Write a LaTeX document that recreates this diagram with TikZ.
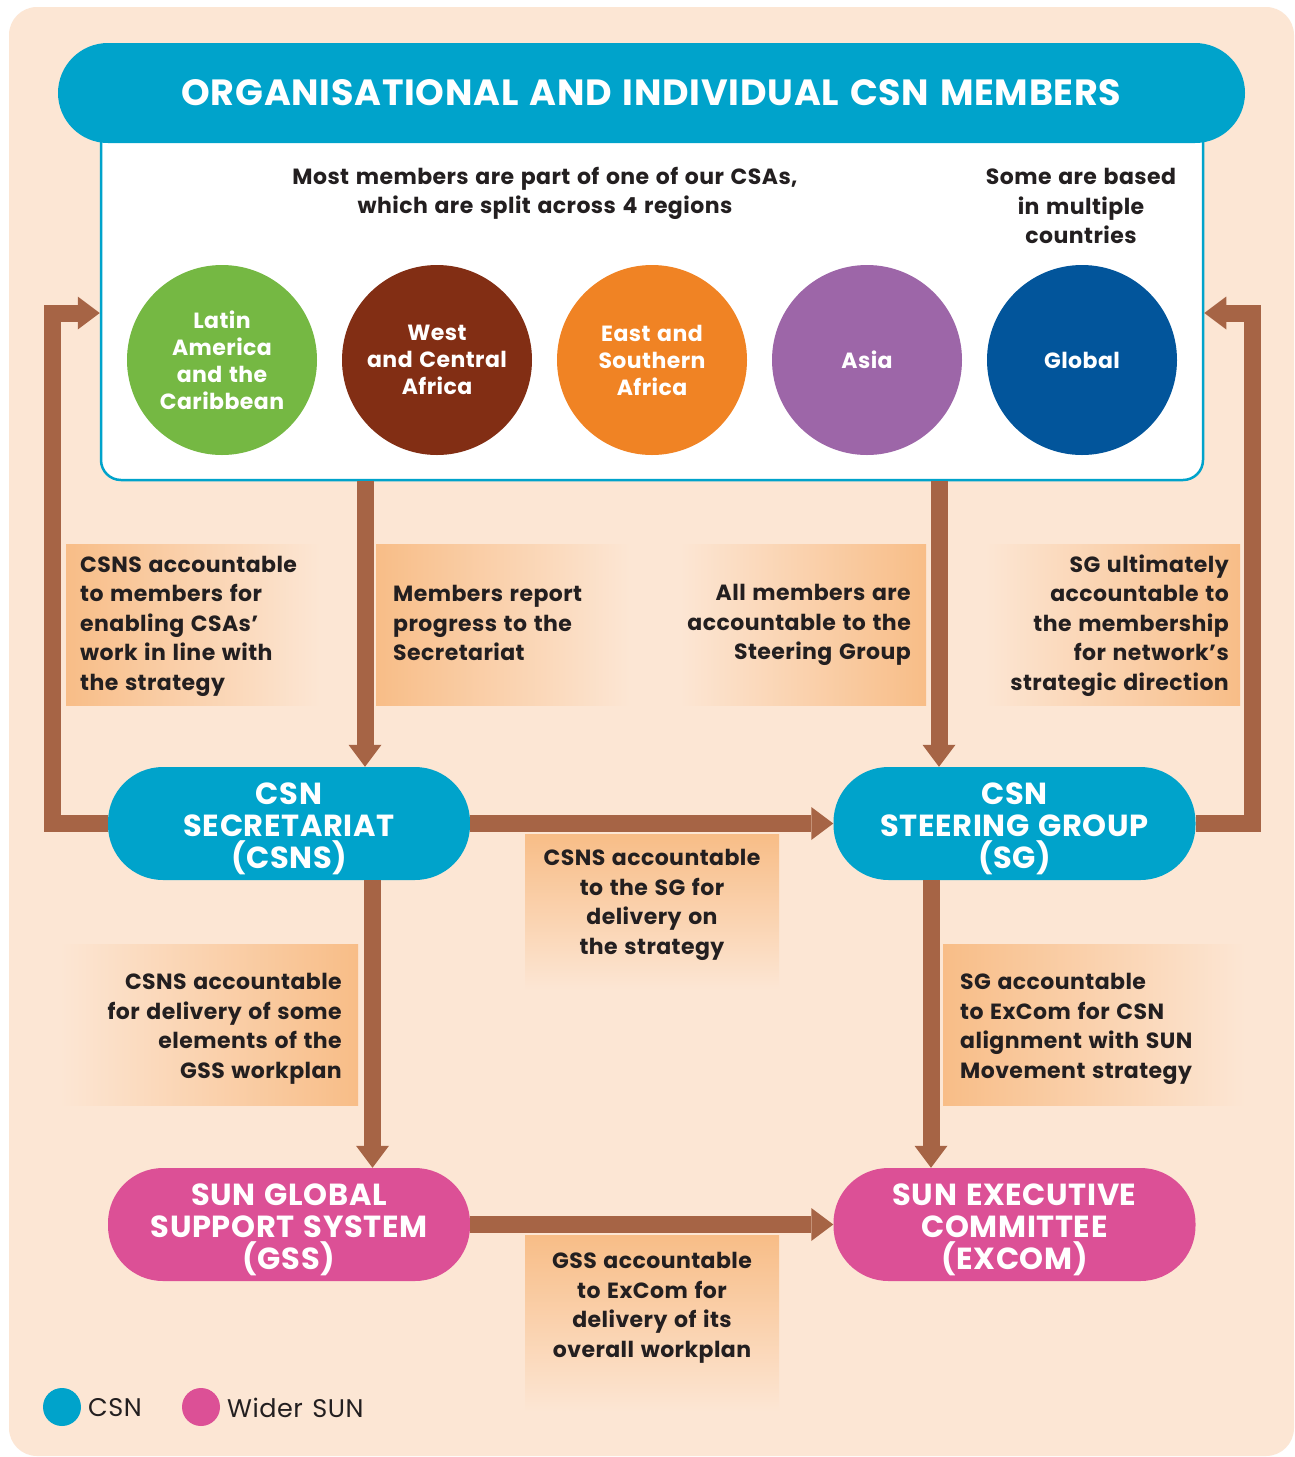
\documentclass[tikz,border=0pt]{standalone}
\usepackage{fontspec}
\setmainfont{Poppins}[LetterSpace=2,WordSpace=1.3]
\usetikzlibrary{arrows.meta}

\definecolor{bgc}{RGB}{252,230,212}
\definecolor{csn}{RGB}{0,163,203}
\definecolor{sun}{RGB}{220,80,150}
\definecolor{arrowc}{RGB}{166,100,69}
\definecolor{lorange}{RGB}{248,189,135}
\definecolor{ink}{RGB}{35,31,32}
\definecolor{regA}{RGB}{117,184,67}
\definecolor{regB}{RGB}{130,46,20}
\definecolor{regC}{RGB}{240,131,36}
\definecolor{regD}{RGB}{157,102,168}
\definecolor{regE}{RGB}{2,85,155}

\newcommand\titlefnt{\fontsize{36.5}{40}\selectfont\bfseries}
\newcommand\pillfnt{\fontsize{30.5}{32}\selectfont\bfseries}
\newcommand\circfnt{\fontsize{22}{27}\selectfont\bfseries}
\newcommand\lblfnt{\fontsize{22}{29.5}\selectfont\bfseries}
\newcommand\legfnt{\fontsize{25.5}{27}\selectfont}

\tikzset{
  conn/.style={draw=arrowc, line width=17pt, line join=miter,
    -{Triangle[width=33pt,length=22pt,line width=0pt]}},
  pill/.style={rectangle, rounded corners=55pt, minimum width=362pt,
    minimum height=113pt, inner sep=0pt},
  ptxt/.style={inner sep=0pt, text=white, font=\pillfnt, align=center},
  region/.style={circle, minimum size=190pt, inner sep=0pt, text=white,
    font=\circfnt, align=center},
  lblbox/.style={rectangle, inner sep=0pt},
  hfade/.style={left color=lorange, middle color=lorange!68!bgc, right color=bgc},
  hrise/.style={left color=bgc, middle color=lorange!68!bgc, right color=lorange},
  vfade/.style={top color=lorange, middle color=lorange!62!bgc, bottom color=bgc},
  ltxt/.style={inner sep=0pt, text=ink, font=\lblfnt},
}

\begin{document}
\begin{tikzpicture}[x=1pt,y=-1pt]
  % page and panel background
  \fill[white] (0,0) rectangle (1295,1457);
  \useasboundingbox (0,0) rectangle (1295,1457);
  \fill[bgc, rounded corners=28pt] (9,7) rectangle (1294,1456);

  % members panel with its title bar
  \node[draw=csn, line width=2.5pt, fill=white, rounded corners=20pt,
        minimum width=1102pt, minimum height=360pt] (box) at (652,300) {};
  \node[fill=csn, rounded corners=50pt, minimum width=1187pt, minimum height=100pt,
        text=white, font=\titlefnt] (title) at (651.5,93)
        {ORGANISATIONAL AND INDIVIDUAL CSN MEMBERS};

  \node[ltxt, align=center] (intro) at (545,193.5)
    {Most members are part of one of our CSAs,\\ which are split across 4 regions};
  \node[ltxt, align=center] (multi) at (1081,206)
    {Some are based\\ in multiple\\ countries};

  % regional circles
  \node[region, fill=regA] (lac) at (222,360) {Latin\\ America\\ and the\\ Caribbean};
  \node[region, fill=regB] (wca) at (437,360) {West\\ and Central\\ Africa};
  \node[region, fill=regC] (esa) at (652,360) {East and\\ Southern\\ Africa};
  \node[region, fill=regD] (asia) at (867,360) {Asia};
  \node[region, fill=regE] (glob) at (1082,360) {Global};

  % shaded label panels
  \node[lblbox, hfade, minimum width=254pt, minimum height=161pt] (b1) at (193,624.5) {};
  \node[lblbox, hfade, minimum width=254pt, minimum height=161pt] (b2) at (503,624.5) {};
  \node[lblbox, hrise, minimum width=246pt, minimum height=161pt] (b3) at (803,624.5) {};
  \node[lblbox, hrise, minimum width=255pt, minimum height=161pt] (b4) at (1112.5,624.5) {};
  \node[lblbox, vfade, minimum width=254pt, minimum height=156pt] (b5) at (652,912) {};
  \node[lblbox, hrise, minimum width=298pt, minimum height=161pt] (b6) at (209,1024.5) {};
  \node[lblbox, hfade, minimum width=302pt, minimum height=161pt] (b7) at (1094,1024.5) {};
  \node[lblbox, vfade, minimum width=254pt, minimum height=177pt] (b8) at (652,1323.5) {};

  % bodies
  \node[pill, fill=csn] (sec) at (289,823.5) {};
  \node[pill, fill=csn] (sg) at (1014.5,823.5) {};
  \node[pill, fill=sun] (gss) at (289,1224.5) {};
  \node[pill, fill=sun] (excom) at (1014.5,1224.5) {};
  \node[ptxt] (secT) at ([yshift=-5pt]sec.center) {CSN\\ SECRETARIAT\\ (CSNS)};
  \node[ptxt] (sgT) at ([yshift=-5pt]sg.center) {CSN\\ STEERING GROUP\\ (SG)};
  \node[ptxt] (gssT) at ([yshift=-5pt]gss.center) {SUN GLOBAL\\ SUPPORT SYSTEM\\ (GSS)};
  \node[ptxt] (excomT) at ([yshift=-5pt]excom.center) {SUN EXECUTIVE\\ COMMITTEE\\ (EXCOM)};

  % accountability connectors
  \draw[conn] (sec.west) -| (52.5,313) -- (box.west |- 0,313);
  \draw[conn] (sg.east) -| (1252,313) -- (box.east |- 0,313);
  \draw[conn] (box.south -| 365,0) -- (sec.north -| 365,0);
  \draw[conn] (box.south -| 939,0) -- (sg.north -| 939,0);
  \draw[conn] (sec.east) -- (sg.west);
  \draw[conn] (sec.south -| 372.5,0) -- (gss.north -| 372.5,0);
  \draw[conn] (sg.south -| 931,0) -- (excom.north -| 931,0);
  \draw[conn] (gss.east) -- (excom.west);

  % label texts
  \node[ltxt, anchor=west, align=left] (t1) at (80,626)
    {CSNS accountable\\ to members for\\ enabling CSAs’\\ work in line with\\ the strategy};
  \node[ltxt, anchor=west, align=left] (t2) at (393,623)
    {Members report\\ progress to the\\ Secretariat};
  \node[ltxt, anchor=east, align=right] (t3) at (911,625)
    {All members are\\ accountable to the\\ Steering Group};
  \node[ltxt, anchor=east, align=right] (t4) at (1229,625.5)
    {SG ultimately\\ accountable to\\ the membership\\ for network’s\\ strategic direction};
  \node[ltxt, align=center] (t5) at (652,905)
    {CSNS accountable\\ to the SG for\\ delivery on\\ the strategy};
  \node[ltxt, anchor=east, align=right] (t6) at (342,1029)
    {CSNS accountable\\ for delivery of some\\ elements of the\\ GSS workplan};
  \node[ltxt, anchor=west, align=left] (t7) at (960,1029)
    {SG accountable\\ to ExCom for CSN\\ alignment with SUN\\ Movement strategy};
  \node[ltxt, align=center] (t8) at (652,1308)
    {GSS accountable\\ to ExCom for\\ delivery of its\\ overall workplan};

  % legend
  \node[circle, fill=csn, minimum size=38pt, inner sep=0pt] (kcsn) at (62,1407) {};
  \node[anchor=west, inner sep=0pt, text=ink, font=\legfnt] (lcsn) at (88,1408) {CSN};
  \node[circle, fill=sun, minimum size=38pt, inner sep=0pt] (ksun) at (201,1407) {};
  \node[anchor=west, inner sep=0pt, text=ink, font=\legfnt] (lsun) at (227,1408) {Wider SUN};
\end{tikzpicture}
\end{document}
